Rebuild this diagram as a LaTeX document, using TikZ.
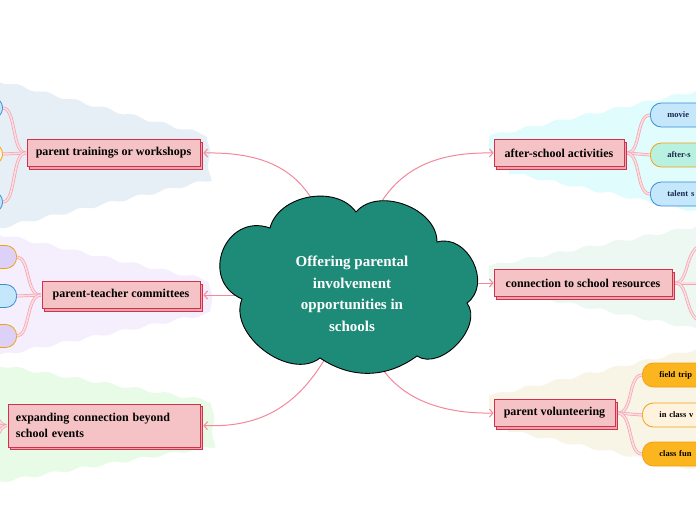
\documentclass[tikz,border=0pt]{standalone}
\usepackage{fontspec}
\setmainfont{Liberation Serif}
\usetikzlibrary{arrows.meta,decorations.pathmorphing,shadows}
\definecolor{bgA}{HTML}{E7EFF6}
\definecolor{bgB}{HTML}{F5EEFC}
\definecolor{bgC}{HTML}{E8FBE6}
\definecolor{bgD}{HTML}{E0FCFC}
\definecolor{bgE}{HTML}{EDF8F2}
\definecolor{bgF}{HTML}{F8F4E6}
\definecolor{topicfill}{HTML}{F5C3C5}
\definecolor{topicborder}{HTML}{D3304C}
\definecolor{shadowfill}{HTML}{EAA7AE}
\definecolor{linkcol}{HTML}{F2889A}
\definecolor{brout}{HTML}{F4A3B0}
\definecolor{brin}{HTML}{FCDDE2}
\definecolor{cloudfill}{HTML}{1E8A78}
\definecolor{pblue}{HTML}{C4E7FB}
\definecolor{pblueb}{HTML}{3A8BD8}
\definecolor{pmint}{HTML}{B9F1E1}
\definecolor{porangeb}{HTML}{F3A10F}
\definecolor{plav}{HTML}{DDD1F7}
\definecolor{porange}{HTML}{FBB51E}
\definecolor{pcream}{HTML}{FFF3DE}
\definecolor{navy}{HTML}{1B2A4E}
\tikzset{
  wavy/.style={decorate, decoration={snake, amplitude=1.5pt, segment length=30pt}},
  topic/.style={draw=topicborder, fill=topicfill, line width=0.8pt,
    minimum height=27pt, inner xsep=8pt, align=left, text=black,
    font=\bfseries\fontsize{12}{15.5}\selectfont,
    copy shadow={shadow xshift=2.6pt, shadow yshift=-2.6pt, fill=shadowfill, draw=topicborder}},
  link/.style={draw=linkcol, line width=1pt, -{Straight Barb[length=3.5pt,width=8pt]}},
  branch/.style={draw=brout, line width=0.7pt, double=brin, double distance=1.6pt},
  pill/.style={rounded corners=11pt, minimum height=24pt, line width=0.8pt,
    inner xsep=17pt, text width=70pt, align=left,
    font=\bfseries\fontsize{8.5}{10}\selectfont},
  bluepill/.style={pill, fill=pblue, draw=pblueb, text=navy},
  mintpill/.style={pill, fill=pmint, draw=porangeb, text=navy},
  orpill/.style={pill, fill=porange, draw=porangeb, text=black},
  crpill/.style={pill, fill=pcream, draw=porangeb, text=black},
  sidepill/.style={rounded corners=11pt, minimum height=22pt, minimum width=60pt, line width=0.8pt}
}
\begin{document}
\begin{tikzpicture}[x=1pt,y=-1pt]
\useasboundingbox (0,0) rectangle (696,520);
\clip (0,0) rectangle (696,520);
\fill[white] (0,0) rectangle (696,520);

% wavy background fans
\fill[bgA, wavy] (-20,76) -- (203,134) -- (205,175) -- (-20,226) -- cycle;
\fill[bgB, wavy] (-20,230) -- (203,279) -- (205,315) -- (-20,360) -- cycle;
\fill[bgC, wavy] (-20,362) -- (203,400) -- (205,453) -- (-20,490) -- cycle;
\fill[bgD, wavy] (489,136) -- (720,86) -- (720,222) -- (489,174) -- cycle;
\fill[bgE, wavy] (489,266) -- (720,222) -- (720,348) -- (489,302) -- cycle;
\fill[bgF, wavy] (489,396) -- (720,344) -- (720,480) -- (489,432) -- cycle;

% main topics
\node[topic, minimum width=173pt] (trainings) at (113.5,153) {parent trainings or workshops};
\node[topic, minimum width=158pt] (committees) at (121,295) {parent-teacher committees};
\node[topic, minimum width=192pt, minimum height=43pt, text width=176pt] (expanding) at (104,425.5) {expanding connection beyond\\school events};
\node[topic, minimum width=130pt] (afterschool) at (559,153) {after-school activities};
\node[topic, minimum width=178pt] (resources) at (583,283) {connection to school resources};
\node[topic, minimum width=121pt] (volunteering) at (554.5,413) {parent volunteering};

% sub topics
\node[sidepill, fill=pblue, draw=pblueb, anchor=east] (t1) at (3,108) {};
\node[sidepill, fill=pcream, draw=porangeb, anchor=east] (t2) at (3,154) {};
\node[sidepill, fill=pblue, draw=pblueb, anchor=east] (t3) at (3,202) {};
\node[sidepill, minimum height=23pt, fill=plav, draw=porangeb, anchor=east] (m1) at (17,257) {};
\node[sidepill, minimum height=23pt, fill=pblue, draw=pblueb, anchor=east] (m2) at (17,296) {};
\node[sidepill, minimum height=23pt, fill=plav, draw=porangeb, anchor=east] (m3) at (17,336) {};
\coordinate (e1) at (-25,394);
\coordinate (e2) at (-25,427);
\coordinate (e3) at (-25,460);

\node[bluepill, anchor=west] (movie) at (650,115) {movie};
\node[mintpill, anchor=west] (afters) at (650,155) {after-s};
\node[bluepill, anchor=west] (talent) at (650,194) {talent s};
\coordinate (r1) at (705,245);
\coordinate (r2) at (705,283);
\coordinate (r3) at (705,322);
\node[orpill, anchor=west] (field) at (642,375) {field trip};
\node[crpill, anchor=west] (inclass) at (642,415) {in class v};
\node[orpill, anchor=west] (classfun) at (642,454) {class fun};

% branches
\draw[branch] ([xshift=-1pt]trainings.west) .. controls (12,153) and (16,108) .. (t1.east);
\draw[branch] ([xshift=-1pt]trainings.west) -- (t2.east);
\draw[branch] ([xshift=-1pt]trainings.west) .. controls (12,153) and (16,202) .. (t3.east);
\draw[branch] ([xshift=-1pt]committees.west) .. controls (26,296) and (30,257) .. (m1.east);
\draw[branch] ([xshift=-1pt]committees.west) -- (m2.east);
\draw[branch] ([xshift=-1pt]committees.west) .. controls (26,296) and (30,336) .. (m3.east);
\draw[branch] ([xshift=-1pt]expanding.west) .. controls (-5,427) and (-5,394) .. (e1);
\draw[branch] ([xshift=-1pt]expanding.west) -- (e2);
\draw[branch] ([xshift=-1pt]expanding.west) .. controls (-5,427) and (-5,460) .. (e3);

\draw[branch] ([xshift=3pt]afterschool.east) .. controls (641,153) and (636,115) .. (movie.west);
\draw[branch] ([xshift=3pt]afterschool.east) -- (afters.west);
\draw[branch] ([xshift=3pt]afterschool.east) .. controls (641,155) and (636,194) .. (talent.west);
\draw[branch] ([xshift=3pt]resources.east) .. controls (690,283) and (684,245) .. (r1);
\draw[branch] ([xshift=3pt]resources.east) -- (r2);
\draw[branch] ([xshift=3pt]resources.east) .. controls (690,283) and (684,322) .. (r3);
\draw[branch] ([xshift=3pt]volunteering.east) .. controls (633,413) and (628,375) .. (field.west);
\draw[branch] ([xshift=3pt]volunteering.east) -- (inclass.west);
\draw[branch] ([xshift=3pt]volunteering.east) .. controls (633,415) and (628,454) .. (classfun.west);

% links from central topic
\coordinate (cA) at (320,215);
\coordinate (cB) at (250,295);
\coordinate (cC) at (330,350);
\coordinate (cD) at (374,215);
\coordinate (cE) at (465,283);
\coordinate (cF) at (372,350);
\draw[link] (cA) .. controls (300,168) and (262,152) .. ([xshift=3pt]trainings.east);
\draw[link] (cB) -- ([xshift=3pt]committees.east);
\draw[link] (cC) .. controls (300,405) and (262,428) .. ([xshift=3pt]expanding.east);
\draw[link] (cD) .. controls (398,166) and (440,152) .. (afterschool.west);
\draw[link] (cE) -- (resources.west);
\draw[link] (cF) .. controls (392,398) and (440,414) .. (volunteering.west);

% central cloud
\filldraw[fill=cloudfill, draw=black, line width=0.9pt]
  (270,228) to[bend left=65] (356,212) to[bend left=70] (437,242)
  to[bend left=80, looseness=1.2] (467,303) to[bend left=80] (417,356)
  to[bend left=35] (320,358) to[bend left=75] (242,299)
  to[bend left=88, looseness=1.6] (270,228) -- cycle;
\node[text=white, align=center, font=\bfseries\fontsize{15}{21.5}\selectfont] (center) at (352,294)
  {Offering parental\\involvement\\opportunities in\\schools};
\end{tikzpicture}
\end{document}
